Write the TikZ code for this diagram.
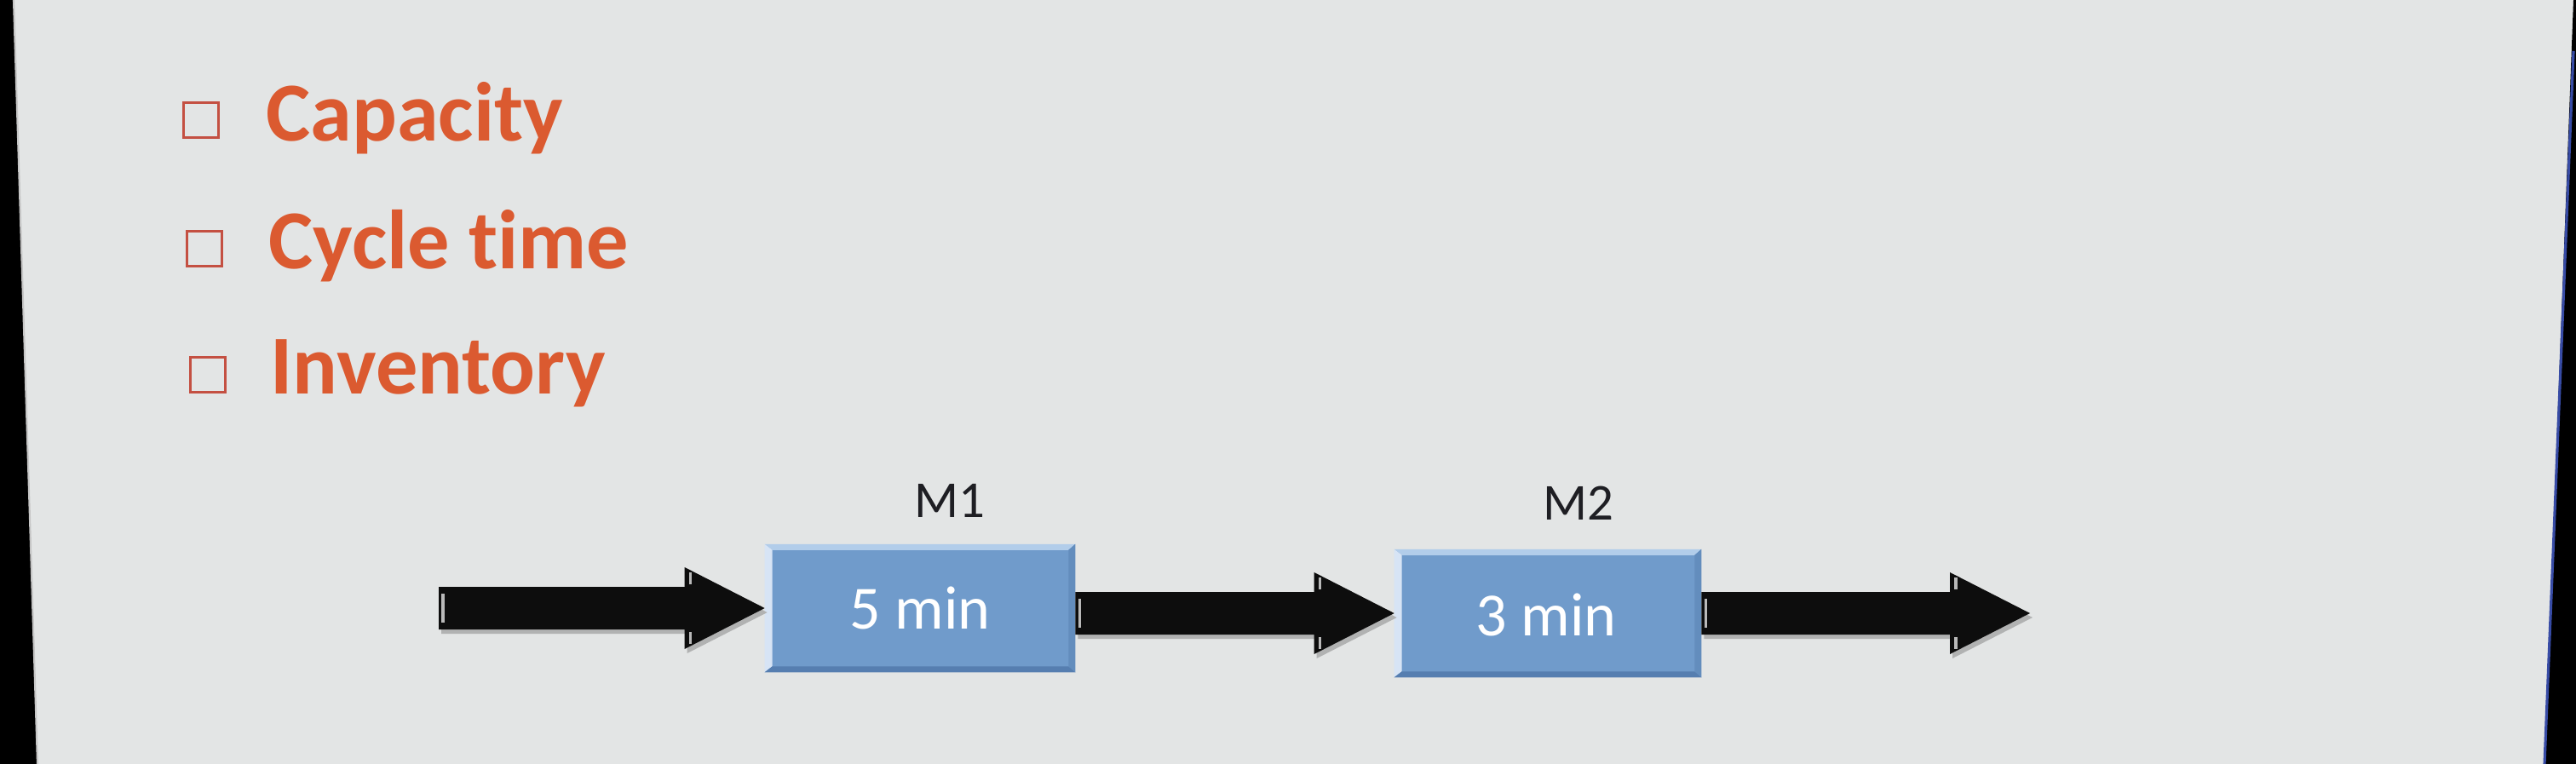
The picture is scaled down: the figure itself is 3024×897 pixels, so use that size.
\documentclass[tikz,border=0pt]{standalone}
\usepackage{fontspec}
\setmainfont{Carlito}[Ligatures=NoCommon]
\usetikzlibrary{calc}
\definecolor{bg}{RGB}{227,229,229}
\definecolor{bullet}{RGB}{219,90,48}
\definecolor{chk}{RGB}{196,80,66}
\definecolor{boxblue}{RGB}{112,155,203}
\definecolor{boxlight}{RGB}{178,205,234}
\definecolor{boxbright}{RGB}{215,228,245}
\definecolor{boxdark}{RGB}{86,126,176}
\definecolor{labelc}{RGB}{30,30,35}
\definecolor{bezelblue}{RGB}{55,75,165}
\newcommand\arrowshape[4]{%
  ($(#1|-#2)+(#3,-25+#4)$) -- ($(#2)+(-94+#3,-25+#4)$) -- ($(#2)+(-94+#3,-48+#4)$) -- ($(#2)+(#3,#4)$) -- ($(#2)+(-94+#3,48+#4)$) -- ($(#2)+(-94+#3,25+#4)$) -- ($(#1|-#2)+(#3,25+#4)$) -- cycle}
\newcommand\flowarrow[2]{%
  \fill[arrowshadow] \arrowshape{#1}{#2}{3}{5};
  \fill[arrowbody] \arrowshape{#1}{#2}{0}{0};
  \draw[arrowhl] ($(#1|-#2)+(5,-17)$) -- ($(#1|-#2)+(5,17)$);
  \draw[arrowhl] ($(#2)+(-87,-42)$) -- ($(#2)+(-87,-28)$) ($(#2)+(-87,28)$) -- ($(#2)+(-87,42)$);
}
\newcommand\bevel[1]{%
  \fill[boxlight] (#1.north west) -- (#1.north east) -- ($(#1.north east)+(-8,7)$) -- ($(#1.north west)+(9,7)$) -- cycle;
  \fill[boxbright] (#1.north west) -- ($(#1.north west)+(9,7)$) -- ($(#1.south west)+(9,-7)$) -- (#1.south west) -- cycle;
  \fill[boxdark] (#1.south west) -- ($(#1.south west)+(9,-7)$) -- ($(#1.south east)+(-8,-7)$) -- (#1.south east) -- cycle;
  \fill[boxdark!50!boxblue] (#1.south east) -- ($(#1.south east)+(-8,-7)$) -- ($(#1.north east)+(-8,7)$) -- (#1.north east) -- cycle;
}
\begin{document}
\begin{tikzpicture}[x=0.01cm,y=-0.01cm,
  bullettext/.style={anchor=base west, inner sep=0pt, text=bullet, font=\fontsize{28}{34}\selectfont\bfseries},
  checkbox/.style={draw=chk, line width=1.1pt, minimum size=0.41cm, inner sep=0pt},
  machine/.style={fill=boxblue, minimum height=1.49cm, inner sep=0pt},
  boxtext/.style={text=white, inner sep=0pt, font=\fontsize{20.5}{24}\selectfont},
  mlabel/.style={anchor=base, inner sep=0pt, text=labelc, font=\fontsize{17.3}{20}\selectfont},
  arrowbody/.style={fill=black!95},
  arrowshadow/.style={fill=gray!50!bg},
  arrowhl/.style={draw=gray!55, line width=0.9pt},
  ]
\useasboundingbox (0,0) rectangle (3024,897);
\fill[bg] (0,0) rectangle (3024,897);
% screen bezels
\fill[black] (0,0) -- (16,0) -- (44,897) -- (0,897) -- cycle;
\draw[gray!45, line width=0.6pt] (16,0) -- (44,897);
\fill[black] (3021,0) -- (3024,0) -- (3024,897) -- (2987,897) -- cycle;
\draw[bezelblue, line width=0.9pt] (3021,60) -- (2987,897);
% bullet list
\node[checkbox] (c1) at (236,141) {};
\node[checkbox] (c2) at (240,292) {};
\node[checkbox] (c3) at (244,440) {};
\node[bullettext] (t1) at (312,165) {Capacity};
\node[bullettext] (t2) at (315,315) {Cycle time};
\node[bullettext] (t3) at (317,462) {Inventory};
% machines
\node[machine, minimum width=3.63cm] (m1) at (1080,714) {};
\node[machine, minimum width=3.59cm] (m2) at (1817,720) {};
\bevel{m1}
\bevel{m2}
\node[boxtext] (m1t) at (m1) {5 min};
\node[boxtext] (m2t) at ($(m2)+(-2,2)$) {3 min};
\node[mlabel] (l1) at (1115,607) {M1};
\node[mlabel] (l2) at (1853,610) {M2};
% flow arrows
\coordinate (in) at (515,714);
\coordinate (out) at (2383,720);
\flowarrow{in}{m1.west}
\flowarrow{m1.east}{m2.west}
\flowarrow{m2.east}{out}
\end{tikzpicture}
\end{document}
